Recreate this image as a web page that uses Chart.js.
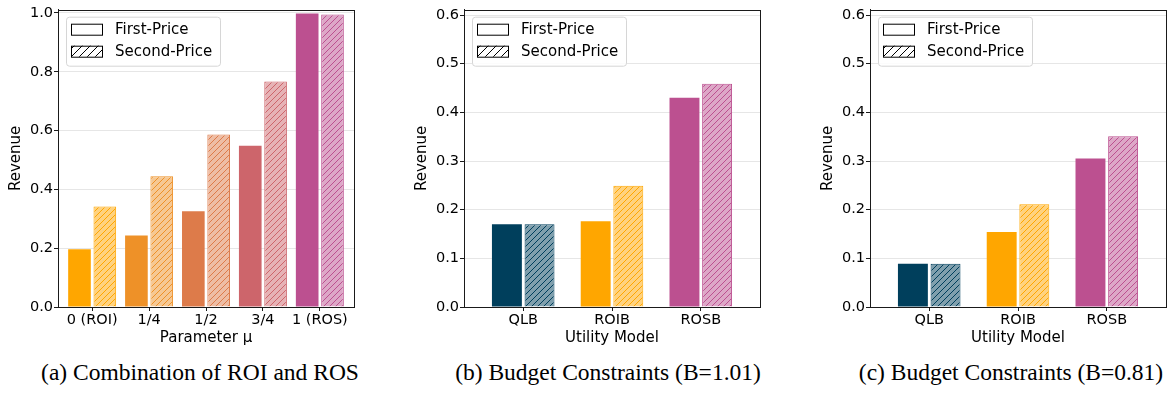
<!DOCTYPE html>
<html>
<head>
<meta charset="utf-8">
<script src="https://cdn.jsdelivr.net/npm/chart.js@4.4.1/dist/chart.umd.min.js"></script>
<style>
  html, body { margin: 0; padding: 0; background: #fff; }
  body { width: 1172px; height: 400px; position: relative; overflow: hidden; }
  canvas { position: absolute; top: 0; }
  .cap { position: absolute; top: 359px; width: 400px; text-align: center;
         font-family: "Liberation Serif", serif; font-size: 23.5px; color: #000; }
</style>
</head>
<body>
<canvas id="c1" width="360" height="350" style="left:0px"></canvas>
<canvas id="c2" width="360" height="350" style="left:406px"></canvas>
<canvas id="c3" width="360" height="350" style="left:812px"></canvas>
<div class="cap" style="left:0px">(a) Combination of ROI and ROS</div>
<div class="cap" style="left:408px">(b) Budget Constraints (B=1.01)</div>
<div class="cap" style="left:811px">(c) Budget Constraints (B=0.81)</div>
<script>
// data
const muLabels = ['0 (ROI)', '1/4', '1/2', '3/4', '1 (ROS)'];
const muFirst = [0.196, 0.243, 0.326, 0.548, 0.998];
const muSecond = [0.342, 0.445, 0.587, 0.767, 0.995];
const muTicks = [0, 0.2, 0.4, 0.6, 0.8, 1.0];

const modelLabels = ['QLB', 'ROIB', 'ROSB'];
const b101First = [0.170, 0.176, 0.430];
const b101Second = [0.170, 0.249, 0.459];
const b081First = [0.089, 0.154, 0.305];
const b081Second = [0.089, 0.211, 0.351];
const budgetTicks = [0, 0.1, 0.2, 0.3, 0.4, 0.5, 0.6];

const muColors = ['#ffa600', '#ee9128', '#dd7b4a', '#cd656b', '#bc5090'];
const muLight = ['#ffd27f', '#f6c893', '#eebda4', '#e6b2b5', '#dda7c7'];
const modelColors = ['#003f5c', '#ffa600', '#bc5090'];
const modelLight = ['#7f9fad', '#ffd27f', '#dda7c7'];

const FONT = 'DejaVu Sans';
const INK = '#1a1a1a';

function hatch(fill, stroke, size) {
  const n = size || 6;
  const c = document.createElement('canvas');
  c.width = c.height = n;
  const g = c.getContext('2d');
  g.fillStyle = fill;
  g.fillRect(0, 0, n, n);
  g.strokeStyle = stroke;
  g.lineWidth = 1;
  g.beginPath();
  g.moveTo(-1, n + 1); g.lineTo(n + 1, -1);
  g.moveTo(-1, 1); g.lineTo(1, -1);
  g.moveTo(n - 1, n + 1); g.lineTo(n + 1, n - 1);
  g.stroke();
  return g.createPattern(c, 'repeat');
}

// frame around the plot area (matplotlib spines)
const frame = {
  id: 'frame',
  afterDraw(chart) {
    const { ctx, chartArea: a } = chart;
    ctx.save();
    ctx.strokeStyle = INK;
    ctx.lineWidth = 1;
    ctx.strokeRect(Math.round(a.left) + 0.5, Math.round(a.top) + 0.5,
      Math.round(a.right - a.left), Math.round(a.bottom - a.top));
    ctx.restore();
  }
};

// legend box drawn inside the plot area, top-left
const boxLegend = {
  id: 'boxLegend',
  afterDatasetsDraw(chart) {
    const { ctx, chartArea: a } = chart;
    const x = a.left + 8, y = a.top + 7, w = 154, h = 49;
    ctx.save();
    ctx.beginPath();
    ctx.roundRect(x + 0.5, y + 0.5, w, h, 3);
    ctx.fillStyle = 'rgba(255,255,255,0.85)';
    ctx.fill();
    ctx.strokeStyle = '#d6d6d6';
    ctx.lineWidth = 1;
    ctx.stroke();
    const items = [
      { text: 'First-Price', fill: '#ffffff' },
      { text: 'Second-Price', fill: hatch('#ffffff', '#000000', 8) }
    ];
    items.forEach((it, i) => {
      const sy = y + 7 + i * 22;
      ctx.fillStyle = it.fill;
      ctx.fillRect(x + 5, sy, 31, 11);
      ctx.strokeStyle = '#000';
      ctx.strokeRect(x + 5.5, sy + 0.5, 31, 11);
      ctx.fillStyle = '#000';
      ctx.font = '15px "' + FONT + '"';
      ctx.textBaseline = 'middle';
      ctx.fillText(it.text, x + 49, sy + 6);
    });
    ctx.restore();
  }
};

function makeChart(id, labels, first, second, colors, light, ticks, ymax, xmin, xmax, catPct, barPct, xTitle, top) {
  const pts = arr => arr.map((v, i) => ({ x: i, y: v }));
  new Chart(document.getElementById(id), {
    type: 'bar',
    data: {
      datasets: [
        {
          label: 'First-Price',
          data: pts(first),
          backgroundColor: colors,
          borderWidth: 0,
          categoryPercentage: catPct,
          barPercentage: barPct
        },
        {
          label: 'Second-Price',
          data: pts(second),
          backgroundColor: light.map((l, i) => hatch(l, colors[i])),
          borderColor: colors,
          borderWidth: 1,
          categoryPercentage: catPct,
          barPercentage: barPct
        }
      ]
    },
    options: {
      responsive: false,
      animation: false,
      layout: { padding: { top: top, right: 6, left: 0, bottom: 0 } },
      plugins: { legend: { display: false }, tooltip: { enabled: false } },
      scales: {
        x: {
          type: 'linear',
          min: xmin,
          max: xmax,
          offset: false,
          afterBuildTicks: s => { s.ticks = labels.map((_, i) => ({ value: i })); },
          afterFit: s => { s.height = 43; },
          grid: { offset: false, drawOnChartArea: false, tickLength: 4, tickColor: INK },
          border: { color: INK, width: 1 },
          ticks: {
            autoSkip: false, maxRotation: 0, padding: 1, color: '#000',
            font: { family: FONT, size: 14.5 },
            callback: v => labels[v]
          },
          title: {
            display: true, text: xTitle, color: '#000',
            font: { family: FONT, size: 15 }, padding: { top: 0, bottom: 3 }
          }
        },
        y: {
          min: 0,
          max: ymax,
          afterBuildTicks: s => { s.ticks = ticks.map(v => ({ value: v })); },
          afterFit: s => { s.width = 58; },
          grid: { color: '#e6e6e6', tickLength: 4, tickColor: INK },
          border: { color: INK, width: 1 },
          ticks: {
            padding: 1, color: '#000',
            font: { family: FONT, size: 14.5 },
            callback: v => v.toFixed(1)
          },
          title: {
            display: true, text: 'Revenue', color: '#000',
            font: { family: FONT, size: 15 }, padding: { top: 7, bottom: 0 }
          }
        }
      }
    },
    plugins: [boxLegend, frame]
  });
}

makeChart('c1', muLabels, muFirst, muSecond, muColors, muLight, muTicks, 1.011, -0.6, 4.6, 0.89, 0.894, 'Parameter μ', 6);
makeChart('c2', modelLabels, b101First, b101Second, modelColors, modelLight, budgetTicks, 0.611, -0.667, 2.667, 0.735, 0.917, 'Utility Model', 4);
makeChart('c3', modelLabels, b081First, b081Second, modelColors, modelLight, budgetTicks, 0.611, -0.667, 2.667, 0.735, 0.917, 'Utility Model', 4);
</script>
</body>
</html>
